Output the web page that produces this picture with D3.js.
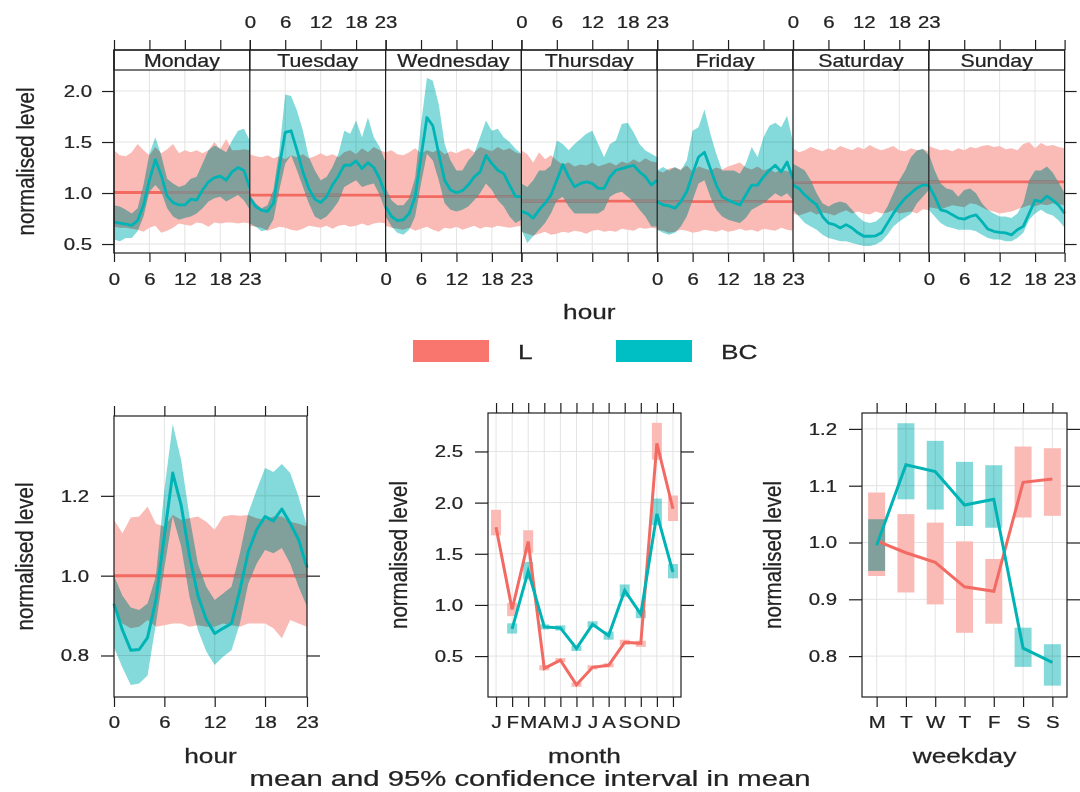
<!DOCTYPE html>
<html>
<head>
<meta charset="utf-8">
<title>timeVariation: L and BC</title>
<style>
  body { margin: 0; background: #fff; }
  svg text {
    font-family: "Liberation Sans", Arial, sans-serif; fill: #222;
    stroke: #222; stroke-width: 0.25px; paint-order: stroke;
  }
</style>
</head>
<body>
<svg id="chart" width="1080" height="792"></svg>
<script src="https://d3js.org/d3.v7.min.js"></script>
<script>
// ---- data ----
const days = ['Monday', 'Tuesday', 'Wednesday', 'Thursday', 'Friday', 'Saturday', 'Sunday']
const hours = d3.range(24)
const hourTicks = [0, 6, 12, 18, 23]
const topYTicks = [0.5, 1.0, 1.5, 2.0]

// day x hour panel, L
const lDayMean = [1.005, 0.98, 0.965, 0.92, 0.915, 1.105, 1.11]
const lDayUpper = [
  [1.42,1.37,1.36,1.40,1.48,1.42,1.37,1.45,1.39,1.43,1.48,1.39,1.42,1.40,1.42,1.39,1.42,1.50,1.43,1.53,1.42,1.42,1.43,1.42],
  [1.38,1.36,1.35,1.37,1.34,1.36,1.33,1.37,1.35,1.38,1.34,1.36,1.39,1.36,1.38,1.35,1.40,1.42,1.38,1.44,1.40,1.45,1.42,1.40],
  [1.40,1.42,1.38,1.37,1.40,1.44,1.39,1.42,1.40,1.43,1.38,1.41,1.39,1.42,1.44,1.40,1.45,1.43,1.41,1.45,1.42,1.44,1.40,1.38],
  [1.42,1.38,1.30,1.40,1.33,1.37,1.32,1.28,1.30,1.26,1.28,1.27,1.30,1.26,1.28,1.30,1.27,1.31,1.29,1.33,1.30,1.34,1.31,1.30],
  [1.22,1.20,1.24,1.25,1.23,1.27,1.21,1.26,1.24,1.22,1.25,1.23,1.26,1.28,1.30,1.25,1.23,1.26,1.22,1.24,1.20,1.23,1.21,1.22],
  [1.44,1.40,1.42,1.45,1.43,1.41,1.44,1.42,1.46,1.44,1.42,1.45,1.43,1.47,1.44,1.42,1.44,1.46,1.42,1.41,1.44,1.42,1.43,1.41],
  [1.46,1.44,1.42,1.43,1.41,1.44,1.42,1.45,1.44,1.46,1.47,1.45,1.46,1.43,1.44,1.42,1.48,1.50,1.44,1.49,1.46,1.47,1.45,1.44]
]
const lDayLower = [
  [0.67,0.66,0.66,0.65,0.64,0.62,0.66,0.68,0.61,0.63,0.66,0.70,0.69,0.68,0.71,0.70,0.67,0.71,0.70,0.71,0.71,0.70,0.71,0.70],
  [0.68,0.67,0.66,0.63,0.65,0.67,0.66,0.64,0.63,0.65,0.68,0.67,0.66,0.68,0.65,0.68,0.69,0.67,0.68,0.70,0.68,0.70,0.71,0.70],
  [0.68,0.66,0.65,0.64,0.66,0.63,0.65,0.67,0.64,0.62,0.66,0.65,0.67,0.64,0.66,0.68,0.65,0.67,0.66,0.68,0.67,0.66,0.67,0.68],
  [0.62,0.60,0.58,0.60,0.62,0.59,0.60,0.62,0.61,0.63,0.62,0.60,0.63,0.64,0.62,0.63,0.62,0.65,0.64,0.63,0.66,0.65,0.66,0.65],
  [0.64,0.63,0.61,0.62,0.64,0.63,0.61,0.62,0.64,0.63,0.62,0.64,0.62,0.63,0.65,0.63,0.64,0.62,0.65,0.64,0.63,0.66,0.64,0.63],
  [0.80,0.78,0.80,0.82,0.79,0.81,0.80,0.78,0.81,0.83,0.80,0.82,0.80,0.79,0.82,0.80,0.81,0.83,0.80,0.81,0.82,0.80,0.84,0.83],
  [0.86,0.85,0.84,0.86,0.88,0.87,0.86,0.90,0.89,0.86,0.83,0.82,0.80,0.81,0.82,0.84,0.86,0.88,0.87,0.89,0.88,0.90,0.89,0.88]
]

// day x hour panel, BC
const bcDayMean = [
  [0.715,0.705,0.696,0.683,0.73,0.88,1.126,1.327,1.175,0.97,0.906,0.883,0.883,0.94,0.93,1.03,1.11,1.15,1.165,1.126,1.207,1.25,1.22,1.05],
  [0.95,0.867,0.83,0.82,0.90,1.256,1.595,1.61,1.417,1.207,1.045,0.94,0.906,0.964,1.078,1.165,1.272,1.272,1.314,1.24,1.298,1.25,1.14,0.98],
  [0.867,0.77,0.73,0.738,0.80,0.964,1.353,1.74,1.66,1.385,1.126,1.03,1.003,1.023,1.078,1.158,1.207,1.369,1.288,1.223,1.19,1.078,0.964,0.964],
  [0.82,0.80,0.754,0.835,0.90,0.98,1.126,1.28,1.158,1.06,1.094,1.11,1.094,1.045,1.045,1.158,1.223,1.24,1.256,1.272,1.207,1.16,1.078,1.126],
  [0.916,0.883,0.874,0.85,0.916,1.013,1.19,1.353,1.40,1.24,1.078,0.964,0.93,0.906,0.883,0.98,1.078,1.078,1.158,1.223,1.272,1.207,1.304,1.14],
  [1.078,1.045,0.98,0.93,0.883,0.77,0.705,0.69,0.657,0.69,0.657,0.61,0.576,0.576,0.58,0.61,0.705,0.80,0.88,0.95,1.0,1.05,1.078,1.078],
  [1.078,0.964,0.835,0.82,0.786,0.754,0.744,0.77,0.786,0.72,0.647,0.625,0.615,0.61,0.59,0.64,0.673,0.80,0.93,0.916,0.97,0.93,0.88,0.80]
]
const bcDayUpper = [
  [0.88,0.867,0.835,0.80,0.85,1.08,1.385,1.547,1.37,1.14,1.094,1.06,1.078,1.14,1.16,1.29,1.42,1.466,1.434,1.40,1.515,1.61,1.63,1.515],
  [0.98,0.90,0.85,0.88,1.03,1.417,1.967,1.95,1.806,1.61,1.353,1.223,1.126,1.158,1.256,1.385,1.61,1.58,1.71,1.547,1.74,1.547,1.45,1.30],
  [1.05,0.93,0.88,0.88,0.95,1.15,1.676,2.13,2.10,1.87,1.48,1.32,1.22,1.22,1.32,1.385,1.547,1.71,1.61,1.63,1.547,1.50,1.434,1.385],
  [1.094,1.06,1.126,1.22,1.22,1.27,1.515,1.48,1.42,1.48,1.53,1.58,1.61,1.48,1.353,1.48,1.515,1.676,1.69,1.595,1.48,1.417,1.385,1.35],
  [1.22,1.256,1.22,1.256,1.22,1.32,1.61,1.644,1.82,1.58,1.385,1.22,1.22,1.22,1.19,1.288,1.45,1.353,1.547,1.66,1.69,1.644,1.757,1.50],
  [1.288,1.256,1.22,1.126,0.997,0.90,0.867,0.90,0.916,0.90,0.835,0.77,0.72,0.705,0.72,0.77,0.867,0.997,1.126,1.22,1.353,1.417,1.434,1.37],
  [1.385,1.22,1.094,1.045,1.03,0.964,1.03,1.045,0.997,0.90,0.835,0.80,0.77,0.77,0.754,0.80,0.90,1.126,1.22,1.22,1.26,1.20,1.10,1.00]
]
const bcDayLower = [
  [0.544,0.527,0.56,0.56,0.625,0.77,1.013,1.078,1.013,0.85,0.77,0.738,0.754,0.77,0.80,0.85,0.916,0.948,0.964,0.916,0.948,0.98,0.93,0.835],
  [0.70,0.67,0.625,0.64,0.74,1.03,1.29,1.37,1.22,1.06,0.90,0.77,0.738,0.77,0.835,0.916,1.06,1.094,1.126,1.06,1.078,1.094,0.98,0.82],
  [0.77,0.673,0.61,0.59,0.64,0.77,1.094,1.385,1.32,1.126,0.90,0.835,0.82,0.835,0.867,0.93,0.997,1.094,1.03,0.93,0.867,0.77,0.705,0.738],
  [0.64,0.51,0.576,0.64,0.705,0.80,0.93,0.964,0.867,0.80,0.80,0.80,0.80,0.80,0.835,0.964,0.997,1.013,0.964,0.916,0.835,0.77,0.673,0.673],
  [0.64,0.61,0.59,0.61,0.673,0.77,0.93,1.094,1.126,0.964,0.835,0.77,0.738,0.72,0.705,0.754,0.835,0.867,0.90,0.948,0.997,0.964,0.997,0.93],
  [0.835,0.77,0.705,0.673,0.64,0.59,0.56,0.544,0.527,0.527,0.51,0.495,0.48,0.48,0.495,0.527,0.59,0.673,0.72,0.76,0.80,0.90,0.964,1.03],
  [0.835,0.77,0.705,0.673,0.657,0.64,0.64,0.64,0.625,0.59,0.56,0.544,0.544,0.527,0.527,0.56,0.61,0.738,0.80,0.835,0.80,0.78,0.73,0.66]
]

// hour panel
const hourYTicks = [0.8, 1.0, 1.2]
const lHourMean = [1.0,1.0,1.0,1.0,1.0,1.0,1.0,1.0,1.0,1.0,1.0,1.0,1.0,1.0,1.0,1.0,1.0,1.0,1.0,1.0,1.0,1.0,1.0,1.0]
const lHourUpper = [1.14,1.106,1.146,1.148,1.173,1.13,1.123,1.152,1.14,1.144,1.148,1.135,1.115,1.148,1.152,1.15,1.152,1.144,1.14,1.148,1.148,1.135,1.13,1.123]
const lHourLower = [0.914,0.88,0.868,0.872,0.889,0.872,0.876,0.88,0.88,0.872,0.876,0.872,0.872,0.88,0.876,0.872,0.88,0.88,0.88,0.868,0.843,0.889,0.88,0.872]
const bcHourMean = [0.93,0.864,0.813,0.815,0.845,0.94,1.10,1.257,1.177,1.05,0.95,0.89,0.855,0.868,0.88,0.964,1.06,1.115,1.148,1.137,1.167,1.131,1.09,1.02]
const bcHourUpper = [1.0,0.95,0.92,0.914,0.93,1.0,1.215,1.38,1.29,1.148,1.03,0.972,0.939,0.955,0.972,1.056,1.157,1.215,1.27,1.26,1.28,1.257,1.198,1.123]
const bcHourLower = [0.82,0.77,0.726,0.73,0.75,0.88,1.02,1.148,1.073,0.947,0.864,0.81,0.776,0.797,0.813,0.88,0.98,1.03,1.064,1.056,1.069,1.03,0.972,0.922]

// month panel (BC has no January value)
const months = ['J', 'F', 'M', 'A', 'M', 'J', 'J', 'A', 'S', 'O', 'N', 'D']
const monthYTicks = [0.5, 1.0, 1.5, 2.0, 2.5]
const lMonthMean = [1.76, 0.955, 1.62, 0.38, 0.46, 0.22, 0.39, 0.41, 0.635, 0.625, 2.58, 1.94]
const lMonthLower = [1.68, 0.89, 1.51, 0.36, 0.44, 0.20, 0.37, 0.39, 0.61, 0.59, 2.42, 1.82]
const lMonthUpper = [1.93, 1.02, 1.73, 0.41, 0.48, 0.24, 0.41, 0.43, 0.66, 0.65, 2.78, 2.07]
const bcMonthMean = [null, 0.765, 1.33, 0.785, 0.775, 0.575, 0.81, 0.70, 1.14, 0.91, 1.89, 1.32]
const bcMonthLower = [null, 0.72, 1.25, 0.76, 0.75, 0.55, 0.78, 0.66, 1.08, 0.87, 1.78, 1.26]
const bcMonthUpper = [null, 0.82, 1.42, 0.81, 0.80, 0.60, 0.84, 0.74, 1.20, 0.95, 2.04, 1.40]

// weekday panel
const weekdays = ['M', 'T', 'W', 'T', 'F', 'S', 'S']
const wdYTicks = [0.8, 0.9, 1.0, 1.1, 1.2]
const lWdMean = [1.003, 0.982, 0.965, 0.922, 0.914, 1.106, 1.112]
const lWdLower = [0.941, 0.912, 0.891, 0.841, 0.857, 1.044, 1.047]
const lWdUpper = [1.088, 1.05, 1.035, 1.002, 0.971, 1.169, 1.166]
const bcWdMean = [0.995, 1.137, 1.125, 1.066, 1.076, 0.814, 0.789]
const bcWdLower = [0.95, 1.076, 1.058, 1.029, 1.026, 0.781, 0.748]
const bcWdUpper = [1.041, 1.21, 1.179, 1.142, 1.136, 0.85, 0.821]

const seriesNames = ['L', 'BC']

// ---- styles ----
const RED = '#F26A62', TEAL = '#00B3B5'
const RED_BAND = '#FABBB6', TEAL_BAND = '#84DADA'
const HIDDEN_RED = '#8f8a88'   // red mean line seen through the BC band
const KEY_RED = '#F8766D', KEY_TEAL = '#00BFC4'
const GRID = '#e3e3e3', INK = '#1e1e1e'
const TICK_FS = 17, TICK_SX = 1.2

const svg = d3.select('#chart')
const defs = svg.append('defs')
let clipN = 0

// text that is stretched sideways like the original picture
function txt(g, x, y, s, size, sx, anchor = 'middle', rot = 0) {
  return g.append('text')
    .attr('transform', `translate(${x},${y}) scale(${sx},1)` + (rot ? ` rotate(${rot})` : ''))
    .attr('text-anchor', anchor)
    .attr('dy', '0.35em')
    .attr('font-size', size)
    .text(s)
}

function styleAxis(g) {
  g.select('.domain').remove()
  g.attr('color', INK)
  g.selectAll('line').attr('stroke-width', 1.2)
  g.selectAll('text').attr('font-size', TICK_FS).each(function () {
    const t = d3.select(this)
    const x = +t.attr('x') || 0
    t.attr('x', x / TICK_SX).attr('transform', `scale(${TICK_SX},1)`)
  })
}
const noLabel = () => ''

// L band, L mean, BC band, L mean again (greyed inside BC band), BC mean
function bandPair(g, lRows, bcRows, area, line, lw) {
  g.append('path').datum(lRows).attr('d', area).attr('fill', RED_BAND)
  g.append('path').datum(lRows).attr('d', line)
    .attr('fill', 'none').attr('stroke', RED).attr('stroke-width', lw)
  g.append('path').datum(bcRows).attr('d', area)
    .attr('fill', TEAL_BAND).style('mix-blend-mode', 'multiply')
  const id = 'bc-clip-' + (clipN++)
  defs.append('clipPath').attr('id', id).append('path').datum(bcRows).attr('d', area)
  g.append('path').datum(lRows).attr('d', line)
    .attr('clip-path', `url(#${id})`)
    .attr('fill', 'none').attr('stroke', HIDDEN_RED).attr('stroke-width', lw)
  g.append('path').datum(bcRows).attr('d', line)
    .attr('fill', 'none').attr('stroke', TEAL).attr('stroke-width', lw)
    .attr('stroke-linejoin', 'round')
}

// ---- top panel: hour by day of week ----
const TP = { left: 114, dayW: 135.8, stripTop: 50, top: 70, bottom: 253 }
const topRight = TP.left + 7 * TP.dayW
const yTop = d3.scaleLinear().domain([0.412, 2.206]).range([TP.bottom, TP.top])
const xHr = d3.scaleLinear().domain([0, 23]).range([0, TP.dayW])

const tGrid = svg.append('g'), tData = svg.append('g'), tFrame = svg.append('g')

tGrid.selectAll('line').data(topYTicks).join('line')
  .attr('x1', TP.left).attr('x2', topRight)
  .attr('y1', d => yTop(d)).attr('y2', d => yTop(d))
  .attr('stroke', GRID)

days.forEach((day, i) => {
  const dx = TP.left + i * TP.dayW
  tGrid.append('g').attr('transform', `translate(${dx},0)`)
    .selectAll('line').data(hourTicks).join('line')
    .attr('x1', d => xHr(d)).attr('x2', d => xHr(d))
    .attr('y1', TP.top).attr('y2', TP.bottom)
    .attr('stroke', GRID)

  const lRows = hours.map(h => ({ h, lo: lDayLower[i][h], hi: lDayUpper[i][h], mean: lDayMean[i] }))
  const bcRows = hours.map(h => ({ h, lo: bcDayLower[i][h], hi: bcDayUpper[i][h], mean: bcDayMean[i][h] }))
  const area = d3.area().x(d => xHr(d.h)).y0(d => yTop(d.lo)).y1(d => yTop(d.hi))
  const line = d3.line().x(d => xHr(d.h)).y(d => yTop(d.mean))

  const g = tData.append('g').attr('transform', `translate(${dx},0)`)
  bandPair(g, lRows, bcRows, area, line, 2.8)

  const f = tFrame.append('g').attr('transform', `translate(${dx},0)`)
  f.append('rect')
    .attr('x', 0).attr('y', TP.stripTop)
    .attr('width', TP.dayW).attr('height', TP.top - TP.stripTop)
    .attr('fill', '#fff').attr('stroke', INK).attr('stroke-width', 1.2)
  txt(f, TP.dayW / 2, (TP.stripTop + TP.top) / 2 + 1, day, 17.5, 1.22)
  f.append('line')
    .attr('x1', 0).attr('x2', 0).attr('y1', TP.stripTop).attr('y2', TP.bottom)
    .attr('stroke', INK).attr('stroke-width', 1.2)

  // labels alternate between the bottom and the top of the panels
  f.append('g').attr('transform', `translate(0,${TP.bottom})`)
    .call(d3.axisBottom(xHr).tickValues(hourTicks).tickSize(9).tickPadding(11)
      .tickFormat(i % 2 === 0 ? d3.format('d') : noLabel))
    .call(styleAxis)
  f.append('g').attr('transform', `translate(0,${TP.stripTop})`)
    .call(d3.axisTop(xHr).tickValues(hourTicks).tickSize(10).tickPadding(12)
      .tickFormat(i % 2 === 1 ? d3.format('d') : noLabel))
    .call(styleAxis)
})

tFrame.append('rect')
  .attr('x', TP.left).attr('y', TP.stripTop)
  .attr('width', topRight - TP.left).attr('height', TP.bottom - TP.stripTop)
  .attr('fill', 'none').attr('stroke', INK).attr('stroke-width', 1.2)
tFrame.append('g').attr('transform', `translate(${TP.left},0)`)
  .call(d3.axisLeft(yTop).tickValues(topYTicks).tickSize(12).tickPadding(10).tickFormat(d3.format('.1f')))
  .call(styleAxis)
tFrame.append('g').attr('transform', `translate(${topRight},0)`)
  .call(d3.axisRight(yTop).tickValues(topYTicks).tickSize(12).tickFormat(noLabel))
  .call(styleAxis)
txt(tFrame, TP.left - 89, (TP.top + TP.bottom) / 2, 'normalised level', 20.5, 1.2, 'middle', -90)
txt(tFrame, (TP.left + topRight) / 2, 312, 'hour', 21, 1.25)

// ---- legend ----
const legend = svg.append('g')
const keyX = [413, 616]
const keyCol = [KEY_RED, KEY_TEAL]
seriesNames.forEach((s, i) => {
  legend.append('rect')
    .attr('x', keyX[i]).attr('y', 340).attr('width', 76).attr('height', 22)
    .attr('fill', keyCol[i])
  txt(legend, keyX[i] + 105, 352, s, 21, 1.25, 'start')
})

// ---- bottom panels ----
function panel(o) {
  const x = d3.scaleLinear().domain(o.xDomain).range([o.x0, o.x1])
  const y = d3.scaleLinear().domain(o.yDomain).range([o.y1, o.y0])
  const grid = svg.append('g'), data = svg.append('g'), frame = svg.append('g')
  grid.selectAll('line.v').data(o.xTicks).join('line').attr('class', 'v')
    .attr('x1', d => x(d)).attr('x2', d => x(d)).attr('y1', o.y0).attr('y2', o.y1)
    .attr('stroke', GRID)
  grid.selectAll('line.h').data(o.yTicks).join('line').attr('class', 'h')
    .attr('x1', o.x0).attr('x2', o.x1).attr('y1', d => y(d)).attr('y2', d => y(d))
    .attr('stroke', GRID)
  frame.append('rect')
    .attr('x', o.x0).attr('y', o.y0).attr('width', o.x1 - o.x0).attr('height', o.y1 - o.y0)
    .attr('fill', 'none').attr('stroke', INK).attr('stroke-width', 1.2)
  frame.append('g').attr('transform', `translate(0,${o.y1})`)
    .call(d3.axisBottom(x).tickValues(o.xTicks).tickSize(10).tickPadding(9).tickFormat(o.xFormat))
    .call(styleAxis)
  frame.append('g').attr('transform', `translate(0,${o.y0})`)
    .call(d3.axisTop(x).tickValues(o.xTicks).tickSize(10).tickFormat(noLabel))
    .call(styleAxis)
  frame.append('g').attr('transform', `translate(${o.x0},0)`)
    .call(d3.axisLeft(y).tickValues(o.yTicks).tickSize(13).tickPadding(12).tickFormat(d3.format('.1f')))
    .call(styleAxis)
  frame.append('g').attr('transform', `translate(${o.x1},0)`)
    .call(d3.axisRight(y).tickValues(o.yTicks).tickSize(13).tickFormat(noLabel))
    .call(styleAxis)
  txt(frame, o.x0 - 90, (o.y0 + o.y1) / 2, 'normalised level', 20.5, 1.2, 'middle', -90)
  txt(frame, (o.x0 + o.x1) / 2, 756, o.title, 21, 1.25)
  return { x, y, data }
}

// hour
{
  const p = panel({
    x0: 114, x1: 307, y0: 416, y1: 697,
    xDomain: [0, 23], yDomain: [0.696, 1.40],
    xTicks: hourTicks, xFormat: d3.format('d'), yTicks: hourYTicks, title: 'hour'
  })
  const lRows = hours.map(h => ({ h, lo: lHourLower[h], hi: lHourUpper[h], mean: lHourMean[h] }))
  const bcRows = hours.map(h => ({ h, lo: bcHourLower[h], hi: bcHourUpper[h], mean: bcHourMean[h] }))
  const area = d3.area().x(d => p.x(d.h)).y0(d => p.y(d.lo)).y1(d => p.y(d.hi))
  const line = d3.line().x(d => p.x(d.h)).y(d => p.y(d.mean))
  bandPair(p.data, lRows, bcRows, area, line, 3)
}

// month
{
  const idx = d3.range(1, 13)
  const p = panel({
    x0: 488, x1: 681, y0: 413, y1: 697,
    xDomain: [0.5, 12.5], yDomain: [0.10, 2.876],
    xTicks: idx, xFormat: d => months[d - 1], yTicks: monthYTicks, title: 'month'
  })
  const W = 10
  const lRows = idx.map(m => ({ m, lo: lMonthLower[m - 1], hi: lMonthUpper[m - 1], mean: lMonthMean[m - 1] }))
  const bcRows = idx.map(m => ({ m, lo: bcMonthLower[m - 1], hi: bcMonthUpper[m - 1], mean: bcMonthMean[m - 1] }))
  p.data.append('g').selectAll('rect').data(lRows).join('rect')
    .attr('x', d => p.x(d.m) - W / 2).attr('width', W)
    .attr('y', d => p.y(d.hi)).attr('height', d => p.y(d.lo) - p.y(d.hi))
    .attr('fill', RED_BAND)
  p.data.append('g').selectAll('rect').data(bcRows.filter(d => d.mean != null)).join('rect')
    .attr('x', d => p.x(d.m) - W / 2).attr('width', W)
    .attr('y', d => p.y(d.hi)).attr('height', d => p.y(d.lo) - p.y(d.hi))
    .attr('fill', TEAL_BAND).style('mix-blend-mode', 'multiply')
  const line = d3.line().defined(d => d.mean != null).x(d => p.x(d.m)).y(d => p.y(d.mean))
  p.data.append('path').datum(lRows).attr('d', line)
    .attr('fill', 'none').attr('stroke', RED).attr('stroke-width', 3)
  p.data.append('path').datum(bcRows).attr('d', line)
    .attr('fill', 'none').attr('stroke', TEAL).attr('stroke-width', 3)
}

// weekday
{
  const idx = d3.range(1, 8)
  const p = panel({
    x0: 862, x1: 1067, y0: 413, y1: 697,
    xDomain: [0.5, 7.5], yDomain: [0.728, 1.228],
    xTicks: idx, xFormat: d => weekdays[d - 1], yTicks: wdYTicks, title: 'weekday'
  })
  const W = 17
  const lRows = idx.map(d => ({ d, lo: lWdLower[d - 1], hi: lWdUpper[d - 1], mean: lWdMean[d - 1] }))
  const bcRows = idx.map(d => ({ d, lo: bcWdLower[d - 1], hi: bcWdUpper[d - 1], mean: bcWdMean[d - 1] }))
  p.data.append('g').selectAll('rect').data(lRows).join('rect')
    .attr('x', r => p.x(r.d) - W / 2).attr('width', W)
    .attr('y', r => p.y(r.hi)).attr('height', r => p.y(r.lo) - p.y(r.hi))
    .attr('fill', RED_BAND)
  p.data.append('g').selectAll('rect').data(bcRows).join('rect')
    .attr('x', r => p.x(r.d) - W / 2).attr('width', W)
    .attr('y', r => p.y(r.hi)).attr('height', r => p.y(r.lo) - p.y(r.hi))
    .attr('fill', TEAL_BAND).style('mix-blend-mode', 'multiply')
  const line = d3.line().x(r => p.x(r.d)).y(r => p.y(r.mean))
  p.data.append('path').datum(lRows).attr('d', line)
    .attr('fill', 'none').attr('stroke', RED).attr('stroke-width', 3)
  p.data.append('path').datum(bcRows).attr('d', line)
    .attr('fill', 'none').attr('stroke', TEAL).attr('stroke-width', 3)
}

txt(svg, 530, 778, 'mean and 95% confidence interval in mean', 22, 1.33)
</script>
</body>
</html>
